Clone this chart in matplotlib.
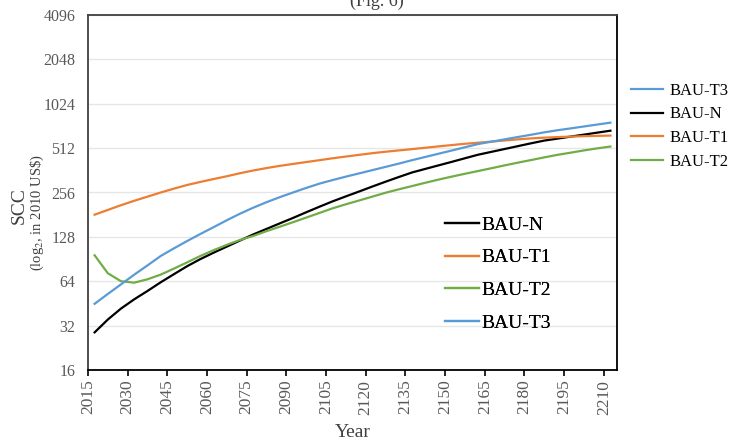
import numpy as np
import matplotlib.pyplot as plt

# data (5-year steps)
years = np.arange(2015, 2211, 5)
bau_n = [28.8, 35.2, 41.8, 48.3, 55, 63, 71.5, 81, 90.5, 100,
         110, 121, 133, 145, 158, 172, 188, 205, 223, 241,
         260, 281, 303, 326, 350, 370, 391, 413, 437, 462,
         483, 505, 528, 552, 576, 594, 613, 632, 652, 672]
bau_t1 = [181, 195, 210, 225, 240, 256, 272, 288, 302, 316,
          330, 346, 361, 375, 388, 400, 412, 424, 437, 449,
          461, 473, 484, 494, 504, 515, 526, 537, 548, 557,
          567, 577, 587, 596, 603, 608, 613, 617, 620, 623]
bau_t2 = [96, 72.5, 64, 62.6, 66, 71, 78, 86, 95, 104,
          113, 122, 130, 140, 150, 161, 173, 186, 200, 213,
          226, 240, 255, 269, 283, 298, 313, 328, 343, 358,
          374, 391, 408, 425, 443, 461, 477, 494, 510, 525]
bau_t3 = [45, 52.5, 61, 71, 82, 95, 107, 120, 134, 149,
          166, 184, 202, 220, 238, 256, 275, 294, 311, 328,
          345, 363, 382, 402, 424, 446, 469, 493, 519, 546,
          566, 587, 609, 631, 655, 677, 697, 718, 740, 762]
y_ticks = [16, 32, 64, 128, 256, 512, 1024, 2048, 4096]
x_labels = years[::3]

plt.rcParams['font.family'] = ['Liberation Serif', 'DejaVu Serif']
plt.rcParams['mathtext.fontset'] = 'stix'

fig = plt.figure(figsize=(7.37, 4.44), dpi=100)
ax = fig.add_axes([88 / 737, 1 - 370 / 444, 529 / 737, 355 / 444])

c_n, c_t1, c_t2, c_t3 = 'black', '#ED7D31', '#70AD47', '#5B9BD5'
ln, = ax.plot(years, bau_n, color=c_n, lw=1.6)
l1, = ax.plot(years, bau_t1, color=c_t1, lw=1.6)
l2, = ax.plot(years, bau_t2, color=c_t2, lw=1.6)
l3, = ax.plot(years, bau_t3, color=c_t3, lw=1.6)

ax.set_yscale('log', base=2)
ax.set_ylim(16, 4096)
ax.set_yticks(y_ticks)
ax.set_yticklabels([str(v) for v in y_ticks])
ax.minorticks_off()
ax.grid(axis='y', color='#e6e6e6', lw=1)
ax.set_axisbelow(True)

# category axis: ticks sit on the boundary left of each labelled year
ax.set_xlim(years[0] - 2.5, years[-1] + 2.5)
ax.set_xticks(x_labels - 2.5)
ax.set_xticklabels([str(v) for v in x_labels], rotation=90)

ax.tick_params(axis='y', length=0, pad=9, labelsize=11.5, labelcolor='#595959')
ax.tick_params(axis='x', length=4, width=1.2, direction='out', pad=3,
               labelsize=12.5, labelcolor='#595959')
for s in ['left', 'top']:
    ax.spines[s].set_color('#404040')
for s in ['right', 'bottom']:
    ax.spines[s].set_color('black')
for s in ax.spines.values():
    s.set_linewidth(1.3)

ax.set_xlabel('Year', fontsize=14, color='#404040', labelpad=7)
fig.text(19 / 737, 1 - 206 / 444, 'SCC', rotation=90, ha='center', va='center',
         fontsize=14, color='#404040')
fig.text(37 / 737, 1 - 212 / 444, '(log$_2$, in 2010 US\\$)', rotation=90,
         ha='center', va='center', fontsize=10.5, color='#404040')

fig.text(377 / 737, 1 - 6 / 444, '(Fig. 6)', ha='center', va='baseline',
         fontsize=13, color='#404040')

leg1 = ax.legend([ln, l1, l2, l3], ['BAU-N', 'BAU-T1', 'BAU-T2', 'BAU-T3'],
                 loc='upper left', bbox_to_anchor=((445 - 88) / 529, (370 - 216) / 355),
                 frameon=False, fontsize=14, handlelength=1.75, handletextpad=0.1,
                 labelspacing=0.78, borderpad=0, borderaxespad=0)
ax.add_artist(leg1)

fig.legend([l3, ln, l1, l2], ['BAU-T3', 'BAU-N', 'BAU-T1', 'BAU-T2'],
           loc='upper left', bbox_to_anchor=(631 / 737, 1 - 83 / 444),
           frameon=False, fontsize=12, handlelength=1.9, handletextpad=0.4,
           labelspacing=0.45, borderpad=0, borderaxespad=0)

fig.savefig('out.png', dpi=100)
